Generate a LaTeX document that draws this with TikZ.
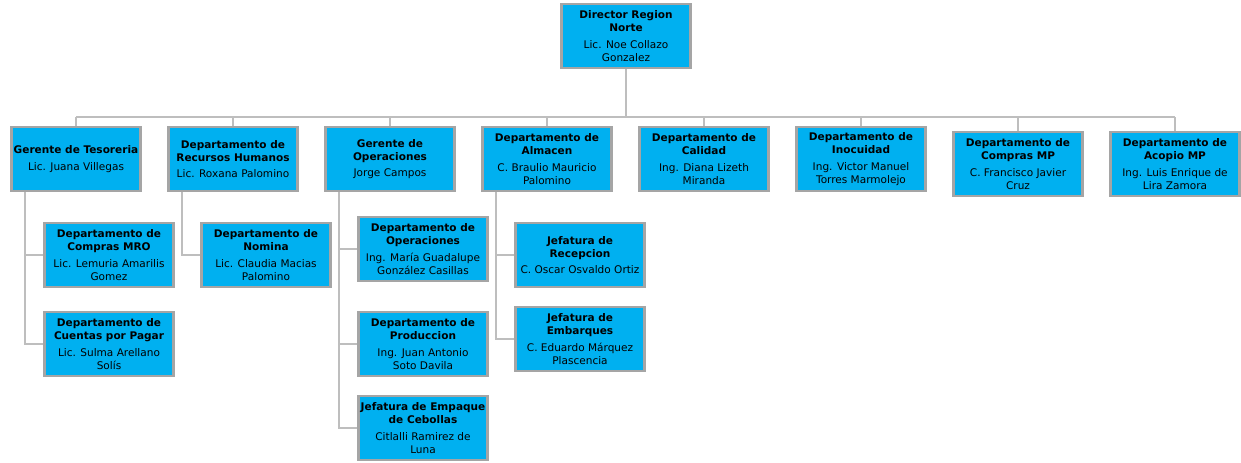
\documentclass[tikz,border=0pt]{standalone}
\usepackage{fontspec}
\setmainfont{DejaVu Sans}
\usetikzlibrary{calc}
\definecolor{cajaazul}{RGB}{0,176,240}
\definecolor{bordegris}{RGB}{165,165,165}
\definecolor{lineagris}{RGB}{190,190,190}
\tikzset{
  puesto/.style={draw=bordegris,line width=2pt,fill=cajaazul,align=center,
    minimum width=97pt,minimum height=48pt,inner sep=1pt,text=black,
    font=\fontsize{7.9}{9.9}\selectfont},
  linea/.style={draw=lineagris,line width=1.5pt}
}
\newcommand{\tit}[1]{\textbf{#1}}
\begin{document}
\begin{tikzpicture}[x=0.75pt,y=-0.75pt]
\useasboundingbox (0,0) rectangle (1241,463);
% direccion
\node[puesto] (dir) at (626,36) {\tit{Director Region}\\\tit{Norte}\\[2.5pt]Lic. Noe Collazo\\Gonzalez};
% gerencias y departamentos
\node[puesto] (tes) at (76,159) {\tit{Gerente de Tesoreria}\\[2.5pt]Lic. Juana Villegas};
\node[puesto] (rh)  at (233,159) {\tit{Departamento de}\\\tit{Recursos Humanos}\\[2.5pt]Lic. Roxana Palomino};
\node[puesto] (ope) at (390,159) {\tit{Gerente de}\\\tit{Operaciones}\\[2.5pt]Jorge Campos};
\node[puesto] (alm) at (547,159) {\tit{Departamento de}\\\tit{Almacen}\\[2.5pt]C. Braulio Mauricio\\Palomino};
\node[puesto] (cal) at (704,159) {\tit{Departamento de}\\\tit{Calidad}\\[2.5pt]Ing. Diana Lizeth\\Miranda};
\node[puesto] (ino) at (861,159) {\tit{Departamento de}\\\tit{Inocuidad}\\[2.5pt]Ing. Victor Manuel\\Torres Marmolejo};
\node[puesto] (cmp) at (1018,164) {\tit{Departamento de}\\\tit{Compras MP}\\[2.5pt]C. Francisco Javier\\Cruz};
\node[puesto] (aco) at (1175,164) {\tit{Departamento de}\\\tit{Acopio MP}\\[2.5pt]Ing. Luis Enrique de\\Lira Zamora};
% segundo nivel
\node[puesto] (mro) at (109,255) {\tit{Departamento de}\\\tit{Compras MRO}\\[2.5pt]Lic. Lemuria Amarilis\\Gomez};
\node[puesto] (cxp) at (109,344) {\tit{Departamento de}\\\tit{Cuentas por Pagar}\\[2.5pt]Lic. Sulma Arellano\\Solís};
\node[puesto] (nom) at (266,255) {\tit{Departamento de}\\\tit{Nomina}\\[2.5pt]Lic. Claudia Macias\\Palomino};
\node[puesto] (dop) at (423,249) {\tit{Departamento de}\\\tit{Operaciones}\\[2.5pt]Ing. María Guadalupe\\González Casillas};
\node[puesto] (pro) at (423,344) {\tit{Departamento de}\\\tit{Produccion}\\[2.5pt]Ing. Juan Antonio\\Soto Davila};
\node[puesto] (emp) at (423,428) {\tit{Jefatura de Empaque}\\\tit{de Cebollas}\\[2.5pt]Citlalli Ramirez de\\Luna};
\node[puesto] (rec) at (580,255) {\tit{Jefatura de}\\\tit{Recepcion}\\[2.5pt]C. Oscar Osvaldo Ortiz};
\node[puesto] (emb) at (580,339) {\tit{Jefatura de}\\\tit{Embarques}\\[2.5pt]C. Eduardo Márquez\\Plascencia};

% lineas
\coordinate (bus) at (626,117);
\draw[linea] (dir.south) -- (dir.south |- bus);
\draw[linea] (tes.north |- bus) -- (aco.north |- bus);
\foreach \n in {tes,rh,ope,alm,cal,ino,cmp,aco}
  \draw[linea] (\n.north) -- (\n.north |- bus);
\draw[linea] ($(tes.south west)+(15,0)$) |- (mro.west);
\draw[linea] ($(tes.south west)+(15,0)$) |- (cxp.west);
\draw[linea] ($(rh.south west)+(15,0)$) |- (nom.west);
\foreach \n in {dop,pro,emp}
  \draw[linea] ($(ope.south west)+(15,0)$) |- (\n.west);
\foreach \n in {rec,emb}
  \draw[linea] ($(alm.south west)+(15,0)$) |- (\n.west);
\end{tikzpicture}
\end{document}
